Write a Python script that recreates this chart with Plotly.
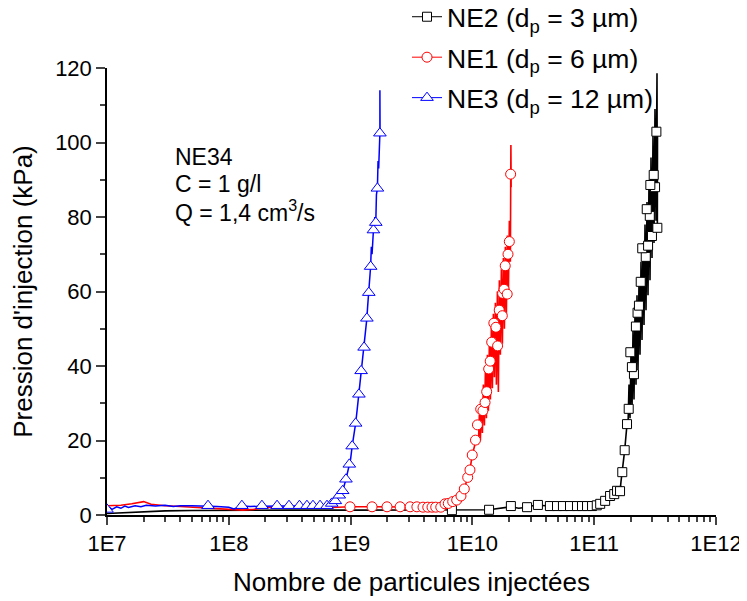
import plotly.graph_objects as go

FONT = "Arial, Liberation Sans, sans-serif"

# ---------------- NE2 (black, squares) ----------------
ne2_line_x = [1.0e7, 1.5e7, 2.0e7, 3.0e7, 5.0e7, 1.0e8, 3.0e8, 1.0e9, 3.0e9, 6.79e9,
              1.37e10, 2.07e10, 2.4e10, 2.81e10, 3.0e10, 3.45e10, 4.33e10, 4.95e10, 5.54e10,
              6.33e10, 7.22e10, 7.94e10, 8.73e10, 9.60e10, 1.05e11, 1.12e11, 1.23e11,
              1.35e11, 1.46e11, 1.54e11, 1.63e11, 1.66e11, 1.70e11, 1.74e11, 1.78e11,
              1.82e11, 1.86e11,
              1.895e11, 1.931e11, 1.968e11, 2.005e11, 2.044e11, 2.083e11, 2.122e11, 2.163e11,
              2.204e11, 2.246e11, 2.289e11, 2.333e11, 2.377e11, 2.423e11, 2.469e11, 2.516e11,
              2.564e11, 2.613e11, 2.663e11, 2.714e11, 2.765e11, 2.818e11, 2.872e11, 2.927e11,
              2.983e11, 3.039e11, 3.097e11, 3.156e11, 3.217e11, 3.278e11, 3.300e11, 3.310e11]
ne2_line_y = [0.4, 0.7, 0.9, 1.1, 1.2, 1.3, 1.3, 1.3, 1.3, 1.3,
              1.4, 2.2, 1.8, 2.1, 2.4, 2.6, 2.4, 2.5, 2.3,
              2.4, 2.4, 2.5, 2.4, 2.4, 2.6, 3.0, 3.8,
              5.1, 5.6, 6.5, 6.4, 9.0, 11.5, 15.0, 17.4,
              21.0, 24.4,
              24.0, 35.0, 26.0, 44.0, 28.0, 50.0, 31.0, 55.0,
              35.0, 59.0, 39.0, 63.0, 43.0, 68.0, 47.0, 73.0,
              51.0, 78.0, 55.0, 84.0, 59.0, 90.0, 63.0, 96.0,
              69.0, 102.0, 73.0, 109.0, 79.0, 118.6, 77.0, 103.0]
ne2_mark_x = [6.79e9, 1.37e10, 2.07e10, 2.81e10, 3.45e10, 4.33e10, 4.95e10, 5.54e10,
              6.33e10, 7.22e10, 7.94e10, 8.73e10, 9.60e10, 1.05e11, 1.12e11, 1.23e11,
              1.35e11, 1.46e11, 1.54e11, 1.63e11, 1.70e11, 1.78e11, 1.86e11, 1.92e11,
              2.12e11, 2.04e11, 1.98e11, 2.20e11, 2.27e11, 2.33e11, 2.41e11, 2.65e11,
              2.48e11, 2.77e11, 2.98e11, 3.30e11, 2.86e11, 2.70e11, 3.16e11, 2.89e11,
              3.08e11, 3.24e11]
ne2_mark_y = [1.3, 1.4, 2.4, 2.1, 2.7, 2.4, 2.4, 2.4,
              2.4, 2.4, 2.4, 2.4, 2.4, 2.6, 3.0, 3.8,
              5.1, 5.6, 6.5, 6.4, 11.5, 17.4, 24.4, 28.5,
              37.8, 39.7, 43.7, 50.6, 54.3, 56.2, 62.6, 69.3,
              71.6, 72.3, 74.9, 77.1, 80.3, 82.1, 88.0, 88.6,
              91.3, 102.9]

# ---------------- NE1 (red, circles) ----------------
ne1_line_x = [1.0e7, 1.3e7, 1.6e7, 2.0e7, 2.3e7, 3.0e7, 4.0e7, 5.0e7, 7.0e7, 1.0e8,
              1.3e8, 1.6e8, 2.0e8, 3.0e8, 5.0e8, 7.0e8, 9.89e8, 1.5e9, 1.99e9, 2.55e9,
              3.08e9, 3.5e9, 3.93e9, 4.3e9, 4.66e9, 5.0e9, 5.5e9, 5.96e9, 6.34e9, 6.89e9,
              7.43e9, 8.06e9, 8.58e9, 9.15e9, 9.55e9, 9.97e9, 1.03e10, 1.06e10, 1.09e10,
              1.120e10, 1.141e10, 1.163e10, 1.185e10, 1.208e10, 1.231e10, 1.255e10, 1.279e10,
              1.303e10, 1.328e10, 1.353e10, 1.379e10, 1.405e10, 1.432e10, 1.459e10, 1.487e10,
              1.515e10, 1.544e10, 1.574e10, 1.604e10, 1.634e10, 1.665e10, 1.697e10, 1.729e10,
              1.763e10, 1.796e10, 1.831e10, 1.865e10, 1.901e10, 1.937e10, 1.974e10, 2.011e10,
              2.050e10, 2.070e10, 2.080e10]
ne1_line_y = [2.5, 2.6, 3.0, 3.6, 2.9, 2.5, 2.3, 2.1, 1.8, 1.5,
              1.3, 1.5, 2.0, 2.1, 1.8, 2.0, 2.2, 2.2, 2.2, 2.2,
              2.2, 2.2, 2.1, 2.1, 2.1, 2.1, 2.1, 3.0, 3.1, 3.6,
              4.0, 5.1, 7.0, 10.1, 12.1, 16.1, 18.0, 20.1, 21.0,
              19.0, 27.0, 20.0, 31.0, 22.0, 35.0, 24.0, 39.0,
              26.0, 43.0, 28.0, 47.0, 31.0, 51.0, 34.0, 54.0,
              37.0, 57.0, 35.0, 60.0, 33.0, 63.0, 43.0, 66.0,
              46.0, 69.0, 50.0, 72.0, 54.0, 75.0, 59.0, 79.0,
              68.0, 99.3, 88.0]
ne1_mark_x = [9.89e8, 1.5e9, 1.99e9, 2.55e9, 3.08e9, 3.5e9, 3.93e9, 4.3e9, 4.66e9,
              5.0e9, 5.5e9, 5.96e9, 6.34e9, 6.89e9, 7.43e9, 8.06e9, 8.58e9, 9.15e9,
              9.55e9, 9.97e9, 1.06e10, 1.10e10, 1.17e10, 1.22e10, 1.27e10, 1.31e10,
              1.36e10, 1.40e10, 1.44e10, 1.50e10, 1.56e10, 1.61e10, 1.66e10, 1.76e10,
              1.77e10, 1.82e10, 1.86e10, 1.93e10, 1.96e10, 2.01e10, 2.06e10]
ne1_mark_y = [2.2, 2.2, 2.2, 2.2, 2.2, 2.2, 2.1, 2.1, 2.1,
              2.1, 2.1, 3.0, 3.1, 3.6, 4.0, 5.1, 7.0, 10.1,
              12.1, 16.1, 20.1, 24.2, 28.4, 28.0, 30.2, 33.1,
              39.2, 41.3, 46.4, 51.5, 50.4, 45.4, 55.0, 53.5,
              59.5, 60.6, 66.9, 59.3, 70.0, 73.4, 91.5]

# ---------------- NE3 (blue, triangles) ----------------
ne3_line_x = [1.0e7, 1.05e7, 1.1e7, 1.2e7, 1.3e7, 1.4e7, 1.5e7, 1.7e7, 1.9e7, 2.1e7,
              2.5e7, 3.0e7, 3.5e7, 4.0e7, 5.0e7, 6.75e7, 8.0e7, 1.0e8, 1.1e8, 1.2e8,
              1.28e8, 1.5e8, 1.87e8, 2.49e8, 3.12e8, 3.8e8, 4.38e8, 4.91e8, 5.61e8,
              6.4e8, 7.0e8, 7.49e8, 8.07e8, 8.61e8, 9.16e8, 9.76e8, 1.00e9, 1.03e9,
              1.06e9, 1.10e9, 1.13e9, 1.17e9, 1.19e9, 1.22e9, 1.25e9, 1.29e9, 1.32e9,
              1.36e9, 1.38e9, 1.41e9, 1.43e9, 1.46e9, 1.48e9, 1.50e9, 1.54e9, 1.58e9,
              1.61e9, 1.63e9, 1.66e9, 1.68e9, 1.70e9, 1.74e9, 1.74e9, 1.745e9]
ne3_line_y = [1.0, 2.0, 1.5, 2.2, 1.8, 2.4, 2.0, 2.5, 2.2, 2.6,
              2.4, 2.6, 2.3, 2.5, 2.5, 2.5, 2.3, 2.1, 1.6, 2.0,
              2.4, 2.3, 2.4, 2.4, 2.4, 2.4, 2.4, 2.4, 2.4,
              2.5, 3.1, 3.8, 5.3, 6.5, 9.6, 13.6, 15.0, 18.5,
              21.0, 24.6, 28.0, 32.4, 36.0, 38.7, 42.0, 45.0, 49.0,
              52.8, 56.0, 59.7, 63.0, 66.7, 72.0, 70.0, 76.5, 80.0,
              78.5, 86.0, 87.7, 95.0, 93.0, 102.5, 114.0, 104.0]
ne3_mark_x = [1.0e7, 6.75e7, 1.28e8, 1.87e8, 2.49e8, 3.12e8, 3.8e8, 4.38e8, 4.91e8,
              5.61e8, 6.4e8, 7.0e8, 7.49e8, 8.07e8, 8.61e8, 9.16e8, 9.76e8, 1.03e9,
              1.10e9, 1.17e9, 1.22e9, 1.29e9, 1.36e9, 1.41e9, 1.46e9, 1.54e9, 1.61e9,
              1.66e9, 1.74e9]
ne3_mark_y = [1.5, 2.5, 2.5, 2.5, 2.5, 2.5, 2.5, 2.5, 2.5,
              2.5, 2.5, 3.1, 3.8, 5.3, 6.5, 9.6, 13.6, 18.5,
              24.6, 32.4, 38.7, 45.0, 52.8, 59.7, 66.7, 76.5, 78.5,
              87.7, 102.5]

x_tickvals = [1e7, 1e8, 1e9, 1e10, 1e11, 1e12]
x_ticktext = ["1E7", "1E8", "1E9", "1E10", "1E11", "1E12"]
x_minor = [m * d for d in [1e7, 1e8, 1e9, 1e10, 1e11] for m in range(2, 10)]

series = [
    ("NE2 (d<sub>p</sub> = 3 µm)", "black", "square", 9, 1.6, ne2_line_x, ne2_line_y, ne2_mark_x, ne2_mark_y),
    ("NE1 (d<sub>p</sub> = 6 µm)", "#ff0000", "circle", 10, 1.6, ne1_line_x, ne1_line_y, ne1_mark_x, ne1_mark_y),
    ("NE3 (d<sub>p</sub> = 12 µm)", "#0000ff", "triangle-up", 11, 1.5, ne3_line_x, ne3_line_y, ne3_mark_x, ne3_mark_y),
]

fig = go.Figure()
for i, (name, col, sym, sz, lw, lx, ly, mx, my) in enumerate(series):
    fig.add_trace(go.Scatter(x=lx, y=ly, mode="lines", line=dict(color=col, width=lw),
                             showlegend=False, legendgroup=f"g{i}", hoverinfo="skip"))
    fig.add_trace(go.Scatter(x=mx, y=my, mode="markers", name=name, legendgroup=f"g{i}",
                             showlegend=False,
                             marker=dict(symbol=sym, size=sz, color="white",
                                         line=dict(color=col, width=1))))
    fig.add_trace(go.Scatter(x=[None], y=[None], mode="lines+markers", name=name,
                             legendgroup=f"g{i}",
                             line=dict(color=col, width=1),
                             marker=dict(symbol=sym, size=sz, color="white",
                                         line=dict(color=col, width=1))))

# page body has an 8px margin: compensate so the plot area lands at the right pixels
L, T, R, B = 99, 60, 31, 86
W, H = 739, 593
pw, ph = W - L - R, H - T - B

def px2paper(x, y):
    return (x - 8 - L) / pw, (H - B - (y - 8)) / ph

text_items = [("NE34", 173, 157), ("C = 1 g/l", 173, 184), ("Q = 1,4 cm<sup>3</sup>/s", 173, 211)]
anns = []
for t, x, y in text_items:
    px, py = px2paper(x, y)
    anns.append(dict(text=t, x=px, y=py, xref="paper", yref="paper", xanchor="left",
                     yanchor="middle", showarrow=False, font=dict(size=23, family=FONT)))

lx, ly = px2paper(407, -7)

fig.update_layout(
    template="none",
    width=W, height=H,
    margin=dict(l=L, r=R, t=T, b=B, autoexpand=False),
    paper_bgcolor="white", plot_bgcolor="white",
    font=dict(family=FONT, color="black", size=22),
    showlegend=True,
    legend=dict(x=lx, y=ly, xanchor="left", yanchor="top",
                font=dict(size=26.5, family=FONT), bgcolor="rgba(0,0,0,0)",
                tracegroupgap=3, traceorder="grouped"),
    annotations=anns,
)

fig.update_xaxes(type="log", range=[7, 12], tickmode="array", tickvals=x_tickvals,
                 ticktext=x_ticktext, ticks="outside", ticklen=8, tickwidth=1.5,
                 showline=True, linewidth=1.5, linecolor="black", showgrid=False,
                 zeroline=False, automargin=False, tickfont=dict(size=22),
                 minor=dict(tickmode="array", tickvals=x_minor, ticks="outside",
                            ticklen=5, tickwidth=1.5, showgrid=False),
                 title=dict(text="Nombre de particules injectées", font=dict(size=26),
                            standoff=18))
fig.update_yaxes(range=[0, 120], tickmode="linear", tick0=0, dtick=20, ticks="outside",
                 ticklen=9, tickwidth=1.5, showline=True, linewidth=1.5, linecolor="black",
                 showgrid=False, zeroline=False, automargin=False, tickfont=dict(size=22),
                 minor=dict(dtick=10, ticks="outside", ticklen=5, tickwidth=1.5, showgrid=False),
                 title=dict(text="Pression d'injection (kPa)", font=dict(size=26), standoff=20))

fig.write_html("out.html")
